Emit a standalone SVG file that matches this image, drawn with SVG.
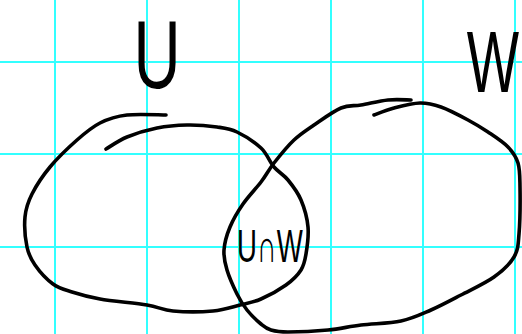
<svg xmlns="http://www.w3.org/2000/svg" width="522" height="334" viewBox="0 0 522 334">
<style>
.grid{stroke:#33ffff;stroke-width:2;fill:none}
.ink{stroke:#000;stroke-width:3.6;fill:none;stroke-linecap:round;stroke-linejoin:round}
.lbl{font-family:"Liberation Sans","DejaVu Sans",sans-serif;fill:#000;text-anchor:middle}
</style>
<rect width="522" height="334" fill="#fff"/>
<g id="grid" class="grid">
<line x1="55" y1="0" x2="55" y2="334"/>
<line x1="147" y1="0" x2="147" y2="334"/>
<line x1="239" y1="0" x2="239" y2="334"/>
<line x1="331" y1="0" x2="331" y2="334"/>
<line x1="423" y1="0" x2="423" y2="334"/>
<line x1="515" y1="0" x2="515" y2="334"/>
<line x1="0" y1="62" x2="522" y2="62"/>
<line x1="0" y1="154" x2="522" y2="154"/>
<line x1="0" y1="247" x2="522" y2="247"/>
</g>
<g id="set-U">
<path class="ink" d="M166,115 C159.5,115 138,113.7 127,115 C116,116.3 108.3,118.8 100,123 C91.7,127.2 85.3,132.7 77,140 C68.7,147.3 57.5,158 50,167 C42.5,176 36.2,185.7 32,194 C27.8,202.3 25.8,208.2 25,217 C24.2,225.8 25.3,239 27,247 C28.7,255 30.7,258.8 35,265 C39.3,271.2 46.8,279.5 53,284 C59.2,288.5 64.2,289.5 72,292 C79.8,294.5 87.5,296.8 100,299 C112.5,301.2 134.8,303 147,305 C159.2,307 162,310 173,311 C184,312 201.8,312 213,311 C224.2,310 232,307 240,305 C248,303 253.3,302.3 261,299 C268.7,295.7 279.3,289.8 286,285 C292.7,280.2 297.7,275.2 301,270 C304.3,264.8 304.8,261.2 306,254 C307.2,246.8 308.8,236 308,227 C307.2,218 304.3,207.8 301,200 C297.7,192.2 292.5,185.5 288,180 C283.5,174.5 278.5,172.3 274,167 C269.5,161.7 267.2,153.8 261,148 C254.8,142.2 244.3,135.5 237,132 C229.7,128.5 225.3,128.2 217,127 C208.7,125.8 197,124.8 187,125 C177,125.2 167,126 157,128 C147,130 135.5,133.5 127,137 C118.5,140.5 109.5,147 106,149"/>
<text class="lbl" font-size="96" transform="translate(157,88) scale(0.68,1)">U</text>
</g>
<g id="set-W">
<path class="ink" d="M374,115 C377.3,113.8 386.3,110 394,108 C401.7,106 412.2,103.2 420,103 C427.8,102.8 433,104.2 441,107 C449,109.8 460.2,115.8 468,120 C475.8,124.2 481.3,127.5 488,132 C494.7,136.5 503,141.8 508,147 C513,152.2 516,156.3 518,163 C520,169.7 519.8,175.2 520,187 C520.2,198.8 520,222.3 519,234 C518,245.7 518.2,249.8 514,257 C509.8,264.2 502.8,270.7 494,277 C485.2,283.3 471.5,289.5 461,295 C450.5,300.5 441,305.7 431,310 C421,314.3 412.7,318.5 401,321 C389.3,323.5 373.2,323.5 361,325 C348.8,326.5 340.2,328.8 328,330 C315.8,331.2 297.5,332 288,332 C278.5,332 275.5,331.3 271,330 C266.5,328.7 265,327.3 261,324 C257,320.7 251,315 247,310 C243,305 240.3,300.7 237,294 C233.7,287.3 229.2,277.3 227,270 C224.8,262.7 223.5,257.2 224,250 C224.5,242.8 226.8,234.7 230,227 C233.2,219.3 237.8,211.5 243,204 C248.2,196.5 255.8,188.8 261,182 C266.2,175.2 268.5,170 274,163 C279.5,156 287.3,146.3 294,140 C300.7,133.7 306.2,130.3 314,125 C321.8,119.7 333.2,111.3 341,108 C348.8,104.7 353.2,106.3 361,105 C368.8,103.7 379.7,100.8 388,100 C396.3,99.2 407.2,100 411,100"/>
<text class="lbl" font-size="88" transform="translate(493,92) scale(0.63,1)">W</text>
</g>
<g id="intersection">
<text class="lbl" font-size="46" transform="translate(270,262) scale(0.6,1)">U∩W</text>
</g>
</svg>
